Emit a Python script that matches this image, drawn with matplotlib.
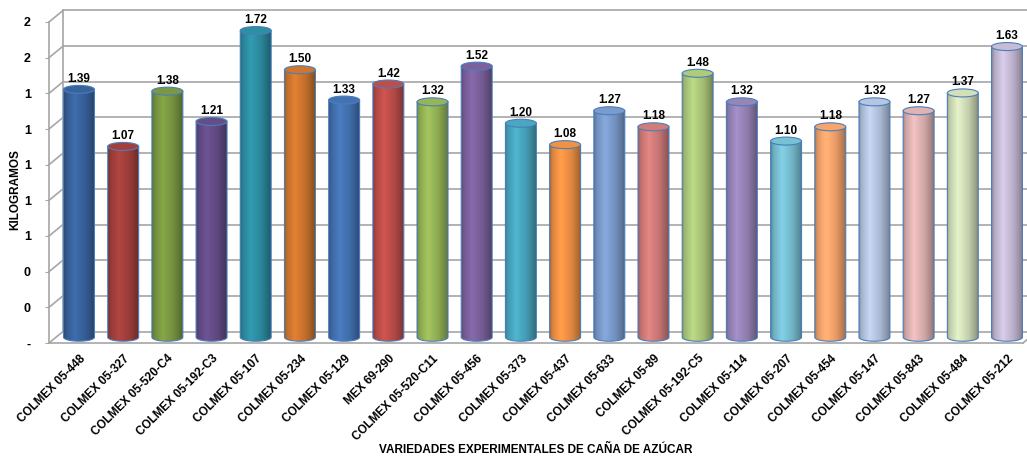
import matplotlib.pyplot as plt
import numpy as np
from matplotlib.patches import Ellipse, PathPatch
from matplotlib.path import Path
from matplotlib.colors import to_rgb

plt.rcParams["font.family"] = ["Liberation Sans", "DejaVu Sans"]
plt.rcParams["font.weight"] = "bold"
plt.rcParams["axes.labelweight"] = "bold"

varieties = [
    "COLMEX 05-448", "COLMEX 05-327", "COLMEX 05-520-C4", "COLMEX 05-192-C3",
    "COLMEX 05-107", "COLMEX 05-234", "COLMEX 05-129", "MEX 69-290",
    "COLMEX 05-520-C11", "COLMEX 05-456", "COLMEX 05-373", "COLMEX 05-437",
    "COLMEX 05-633", "COLMEX 05-89", "COLMEX 05-192-C5", "COLMEX 05-114",
    "COLMEX 05-207", "COLMEX 05-454", "COLMEX 05-147", "COLMEX 05-843",
    "COLMEX 05-484", "COLMEX 05-212",
]
kilos = [1.39, 1.07, 1.38, 1.21, 1.72, 1.50, 1.33, 1.42, 1.32, 1.52, 1.20,
         1.08, 1.27, 1.18, 1.48, 1.32, 1.10, 1.18, 1.32, 1.27, 1.37, 1.63]
y_ticks = [0, 0.2, 0.4, 0.6, 0.8, 1.0, 1.2, 1.4, 1.6, 1.8]
y_tick_labels = ["-", "0", "0", "1", "1", "1", "1", "1", "2", "2"]

bar_colors = [
    "#3a67a3", "#a8423e", "#7f9e44", "#684f8c", "#2f93a8", "#d77a30",
    "#4676b8", "#c4504c", "#9bbb59", "#8064a2", "#4bacc6", "#f79646",
    "#7fa0d2", "#d8807e", "#b3d07f", "#9d89bd", "#7cc6da", "#fdaa70",
    "#bccbe8", "#e6b9b8", "#d9e6bf", "#cdc2de",
]
edge = "#4a7ebb"
grid_col = "#a6a6a6"

W, H = 1027, 457
fig = plt.figure(figsize=(W / 100, H / 100), dpi=100)
ax = fig.add_axes([49 / W, 1 - 343 / H, (1023 - 49) / W, (343 - 22) / H])
x0_lim, x1_lim = -0.52, 21.52
px_x = (x1_lim - x0_lim) / 974
px_y = 1.8 / 321
dep_x, dep_y = 14 * px_x, 11.5 * px_y

# back wall + floor
for y in y_ticks:
    ax.plot([x0_lim + dep_x, x1_lim + dep_x + 0.2], [y + dep_y, y + dep_y],
            color=grid_col, lw=1.2, clip_on=False, zorder=1)
    ax.plot([x0_lim, x0_lim + dep_x], [y, y + dep_y],
            color=grid_col, lw=1.2, clip_on=False, zorder=1)
ax.plot([x0_lim + dep_x] * 2, [dep_y, 1.8 + dep_y], color=grid_col, lw=1.2,
        clip_on=False, zorder=1)
ax.plot([x1_lim, x1_lim + dep_x], [0, dep_y], color=grid_col, lw=1.2,
        clip_on=False, zorder=1)

# cylinders
w = 0.7
eh = 8 * px_y
t = np.linspace(0, 1, 64)
shade = np.interp(t, [0, 0.08, 0.35, 0.7, 0.92, 1], [0.72, 0.88, 1.06, 0.9, 0.72, 0.62])
centers = [i + dep_x / 2 for i in range(len(kilos))]
for xc, v, c in zip(centers, kilos, bar_colors):
    base = dep_y / 2
    top = base + v
    xa, xb = xc - w / 2, xc + w / 2
    arc = Path.arc(180, 360)
    av = arc.vertices * [w / 2, eh / 2] + [xc, base]
    verts = [(xa, top)] + list(map(tuple, av)) + [(xb, top), (xa, top)]
    codes = [Path.MOVETO, Path.LINETO] + list(arc.codes[1:]) + [Path.LINETO, Path.CLOSEPOLY]
    patch = PathPatch(Path(verts, codes), facecolor="none", edgecolor=edge, lw=0.8, zorder=3)
    ax.add_patch(patch)
    rgb = np.array(to_rgb(c))
    grad = np.clip(rgb[None, :] * shade[:, None], 0, 1)
    im = ax.imshow(grad[None, :, :], extent=[xa, xb, base - eh / 2, top],
                   aspect="auto", interpolation="bilinear", zorder=2)
    im.set_clip_path(patch)
    ax.add_patch(Ellipse((xc, top), w, eh, facecolor=np.clip(rgb * 0.97, 0, 1),
                         edgecolor=edge, lw=0.8, zorder=4))
    ax.text(xc, top + eh / 2 + 0.5 * px_y, f"{v:.2f}", ha="center", va="bottom",
            fontsize=8.5, zorder=5)

ax.set_xlim(x0_lim, x1_lim)
ax.set_ylim(0, 1.8)
ax.set_yticks(y_ticks, y_tick_labels)
ax.set_xticks(centers, varieties, rotation=45, ha="right",
              va="top", rotation_mode="anchor")
ax.tick_params(axis="y", length=3, color=grid_col, pad=10, labelsize=9)
ax.tick_params(axis="x", length=0, pad=7, labelsize=8.5)
for s in ["top", "right"]:
    ax.spines[s].set_visible(False)
for s in ["left", "bottom"]:
    ax.spines[s].set_color(grid_col)
    ax.spines[s].set_linewidth(1.2)

ax.set_ylabel("KILOGRAMOS", fontsize=8.5)
ax.yaxis.set_label_coords(-0.028, 0.477)
ax.set_xlabel("VARIEDADES EXPERIMENTALES DE CAÑA DE AZÚCAR", fontsize=8.5)
ax.xaxis.set_label_coords(0.5, -0.333)
ax.xaxis.label.set_va("center")

fig.savefig("out.png", dpi=100)
